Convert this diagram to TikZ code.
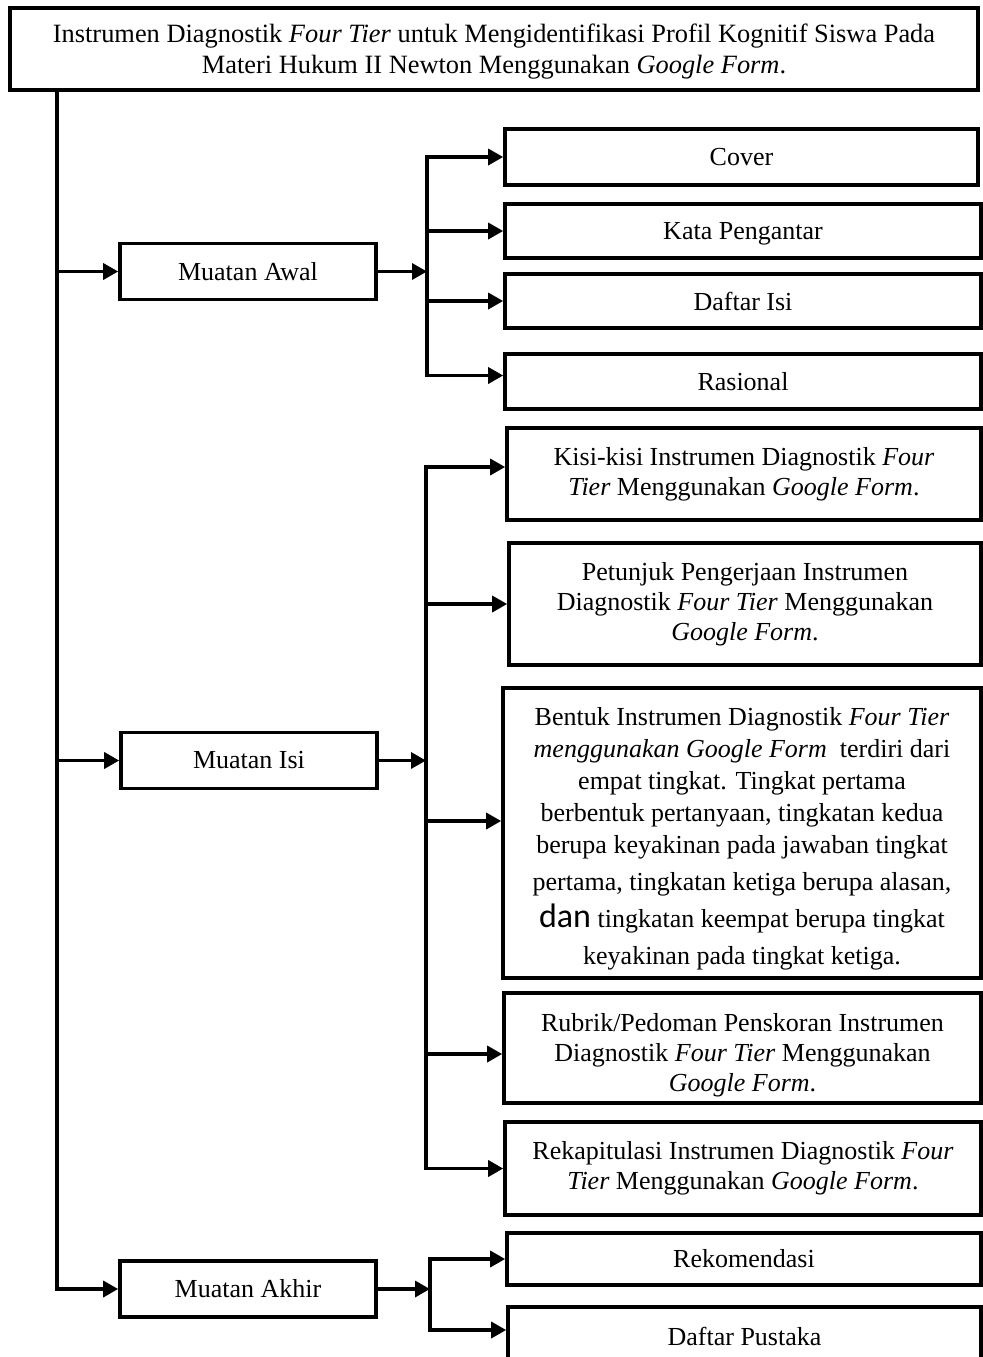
\documentclass[tikz,border=0pt]{standalone}
\usepackage{fontspec}
\setmainfont{Liberation Serif}
\newfontfamily\danfont{Carlito}
\usetikzlibrary{arrows.meta}
\begin{document}
\begin{tikzpicture}[x=0.5pt,y=-0.5pt,
  box/.style={draw=black,line width=1.8pt,fill=white,inner sep=0pt,align=center,
    font=\fontsize{13}{15}\selectfont},
  conn/.style={line width=1.65pt,line cap=rect},
  arr/.style={line width=1.65pt,-{Triangle[length=7.5pt,width=8pt]}}]
\useasboundingbox[fill=white] (0,0) rectangle (983,1357);
% title
\node[box,line width=2pt,minimum width=484pt,minimum height=41pt,font=\fontsize{13.2}{15.5}\selectfont] (title) at (494,49)
  {\rule{0pt}{12pt}Instrumen Diagnostik \textit{Four Tier} untuk Mengidentifikasi Profil Kognitif Siswa Pada\\
   Materi Hukum II Newton Menggunakan \textit{Google Form}.};
% level 1
\node[box,minimum width=128pt,minimum height=28pt] (awal) at (248,271.5) {Muatan Awal};
\node[box,minimum width=128pt,minimum height=28pt] (isi) at (249,760.5) {Muatan Isi};
\node[box,minimum width=128pt,minimum height=28pt] (akhir) at (248,1289) {Muatan Akhir};
% level 2 - awal
\node[box,minimum width=236.5pt,minimum height=28pt] (cover) at (741.5,157) {Cover};
\node[box,minimum width=238pt,minimum height=27pt] (kata) at (743,231) {\rule{0pt}{11pt}Kata Pengantar};
\node[box,minimum width=238pt,minimum height=27pt] (dafis) at (743,301) {Daftar Isi};
\node[box,minimum width=238pt,minimum height=27.5pt] (rasional) at (743,381.5) {Rasional};
% level 2 - isi
\node[box,minimum width=237pt,minimum height=46pt] (kisi) at (744,474)
  {Kisi-kisi Instrumen Diagnostik \textit{Four}\\ \textit{Tier} Menggunakan \textit{Google Form}.};
\node[box,minimum width=236pt,minimum height=61pt] (petunjuk) at (745,604)
  {Petunjuk Pengerjaan Instrumen\\ Diagnostik \textit{Four Tier} Menggunakan\\ \textit{Google Form}.};
\node[box,minimum width=239pt,minimum height=145pt,font=\fontsize{13}{16}\selectfont] (bentuk) at (742,833)
  {\rule{0pt}{15pt}Bentuk Instrumen Diagnostik \textit{Four Tier}\\
   \textit{menggunakan Google Form}\ \ terdiri dari\\
   empat tingkat. Tingkat pertama\\
   berbentuk pertanyaan, tingkatan kedua\\
   berupa keyakinan pada jawaban tingkat\\[2.5pt]
   pertama, tingkatan ketiga berupa alasan,\\[2.5pt]
   {\danfont\fontsize{17}{15}\selectfont dan} tingkatan keempat berupa tingkat\\[2.5pt]
   keyakinan pada tingkat ketiga.};
\node[box,minimum width=238.5pt,minimum height=55pt] (rubrik) at (742.5,1048)
  {\rule{0pt}{16pt}Rubrik/Pedoman Penskoran Instrumen\\ Diagnostik \textit{Four Tier} Menggunakan\\ \textit{Google Form}.};
\node[box,minimum width=238pt,minimum height=46.5pt] (rekap) at (743,1168.5)
  {Rekapitulasi Instrumen Diagnostik \textit{Four}\\ \textit{Tier} Menggunakan \textit{Google Form}.};
% level 2 - akhir
\node[box,minimum width=237pt,minimum height=26pt] (rekom) at (744,1259) {Rekomendasi};
\node[box,minimum width=236.5pt,minimum height=29pt] (dpus) at (744.5,1336) {Daftar Pustaka};
% helper coordinates
\coordinate (tr) at (57,0);
\coordinate (b1) at (427,0);
\coordinate (b2) at (426,0);
\coordinate (b3) at (430,0);
\coordinate (ra) at ([yshift=3pt]rasional.west);
\coordinate (ki) at ([yshift=3.5pt]kisi.west);
\coordinate (be) at ([yshift=6pt]bentuk.west);
\coordinate (ru) at ([yshift=-3pt]rubrik.west);
\coordinate (dp) at ([yshift=3pt]dpus.west);
% trunk
\draw[arr] (title.south -| tr) |- (akhir.west);
\draw[arr] (awal.west -| tr) -- (awal.west);
\draw[arr] (isi.west -| tr) -- (isi.west);
% branch 1
\draw[arr] (awal.east) -- (awal.east -| b1);
\draw[conn] (cover.west -| b1) -- (ra -| b1);
\draw[arr] (cover.west -| b1) -- (cover.west);
\draw[arr] (kata.west -| b1) -- (kata.west);
\draw[arr] (dafis.west -| b1) -- (dafis.west);
\draw[arr] (ra -| b1) -- (ra);
% branch 2
\draw[arr] (isi.east) -- (isi.east -| b2);
\draw[conn] (ki -| b2) -- (rekap.west -| b2);
\draw[arr] (ki -| b2) -- (ki);
\draw[arr] (petunjuk.west -| b2) -- (petunjuk.west);
\draw[arr] (be -| b2) -- (be);
\draw[arr] (ru -| b2) -- (ru);
\draw[arr] (rekap.west -| b2) -- (rekap.west);
% branch 3
\draw[arr] (akhir.east) -- (akhir.east -| b3);
\draw[conn] (rekom.west -| b3) -- (dp -| b3);
\draw[arr] (rekom.west -| b3) -- (rekom.west);
\draw[arr] (dp -| b3) -- (dp);
\end{tikzpicture}
\end{document}
